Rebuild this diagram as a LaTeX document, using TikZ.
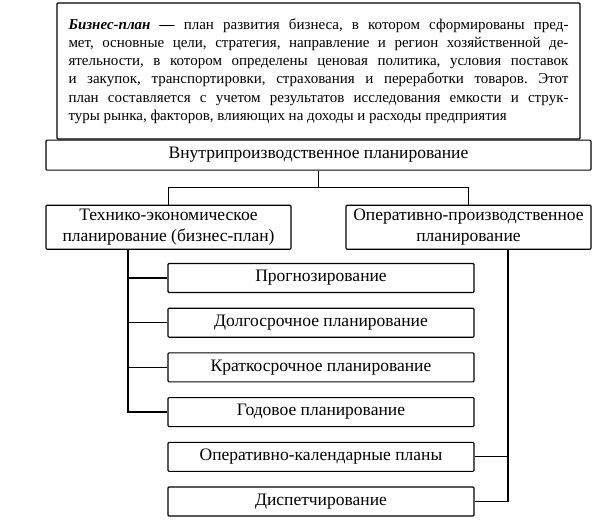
\documentclass[tikz,border=0pt]{standalone}
\usepackage{fontspec}
\setmainfont{Liberation Serif}
\usetikzlibrary{positioning, calc}

\begin{document}
\frenchspacing
\begin{tikzpicture}[
    x=1pt, y=-1pt,
    node distance=14.6pt,
    box/.style={rectangle, rounded corners=1pt, draw=black, line width=1.1pt, fill=white, align=center, inner sep=2pt, font=\fontsize{17.5}{21}\selectfont},
    wide/.style={box, minimum width=#1, minimum height=29pt},
    link/.style={line width=1.3pt, draw=black},
]
\useasboundingbox (0,0) rectangle (613,523);
\fill[white] (0,0) rectangle (613,523);

% definition
\node[box, minimum width=523pt, minimum height=136pt, text width=500pt, inner xsep=11.5pt, align=justify, font=\fontsize{15}{18.2}\selectfont] (def) at (318.5,71)
    {\textbf{\textit{Бизнес-план —}} план развития бизнеса, в котором сформированы пред-\linebreak
     мет, основные цели, стратегия, направление и регион хозяйственной де-\linebreak
     ятельности, в котором определены ценовая политика, условия поставок\linebreak
     и закупок, транспортировки, страхования и переработки товаров. Этот\linebreak
     план составляется с учетом результатов исследования емкости и струк-\linebreak
     туры рынка, факторов, влияющих на доходы и расходы предприятия};
\node[box, minimum width=545pt, minimum height=30pt, below=0pt of def] (vnutr) {Внутрипроизводственное планирование};

% two branches
\node[box, minimum width=245pt, minimum height=44pt, below=34pt of vnutr.south west, anchor=north west] (tech) {Технико-экономическое\\планирование (бизнес-план)};
\node[box, minimum width=245pt, minimum height=44pt, below=34pt of vnutr.south east, anchor=north east] (oper) {Оперативно-производственное\\планирование};

% kinds of planning
\node[wide=306pt] (prog) at (321,278) {Прогнозирование};
\node[wide=306pt, below=of prog] (dolg) {Долгосрочное планирование};
\node[wide=306pt, below=of dolg] (krat) {Краткосрочное планирование};
\node[wide=306pt, below=of krat] (god) {Годовое планирование};
\node[wide=306pt, below=of god] (kal) {Оперативно-календарные планы};
\node[wide=306pt, below=of kal] (disp) {Диспетчирование};

\draw[link] (vnutr.south) -- ++(0,17) coordinate (fork) -| (tech.north);
\draw[link] (fork) -| (oper.north);
\draw[link] ([xshift=-40.5pt]tech.south) coordinate (ltrunk) |- (god.west);
\foreach \n in {prog, dolg, krat}
    \draw[link] (\n.west) -- (\n.west -| ltrunk);
\draw[link] ([xshift=39.5pt]oper.south) coordinate (rtrunk) |- (disp.east);
\draw[link] (kal.east) -- (kal.east -| rtrunk);
\end{tikzpicture}
\end{document}
